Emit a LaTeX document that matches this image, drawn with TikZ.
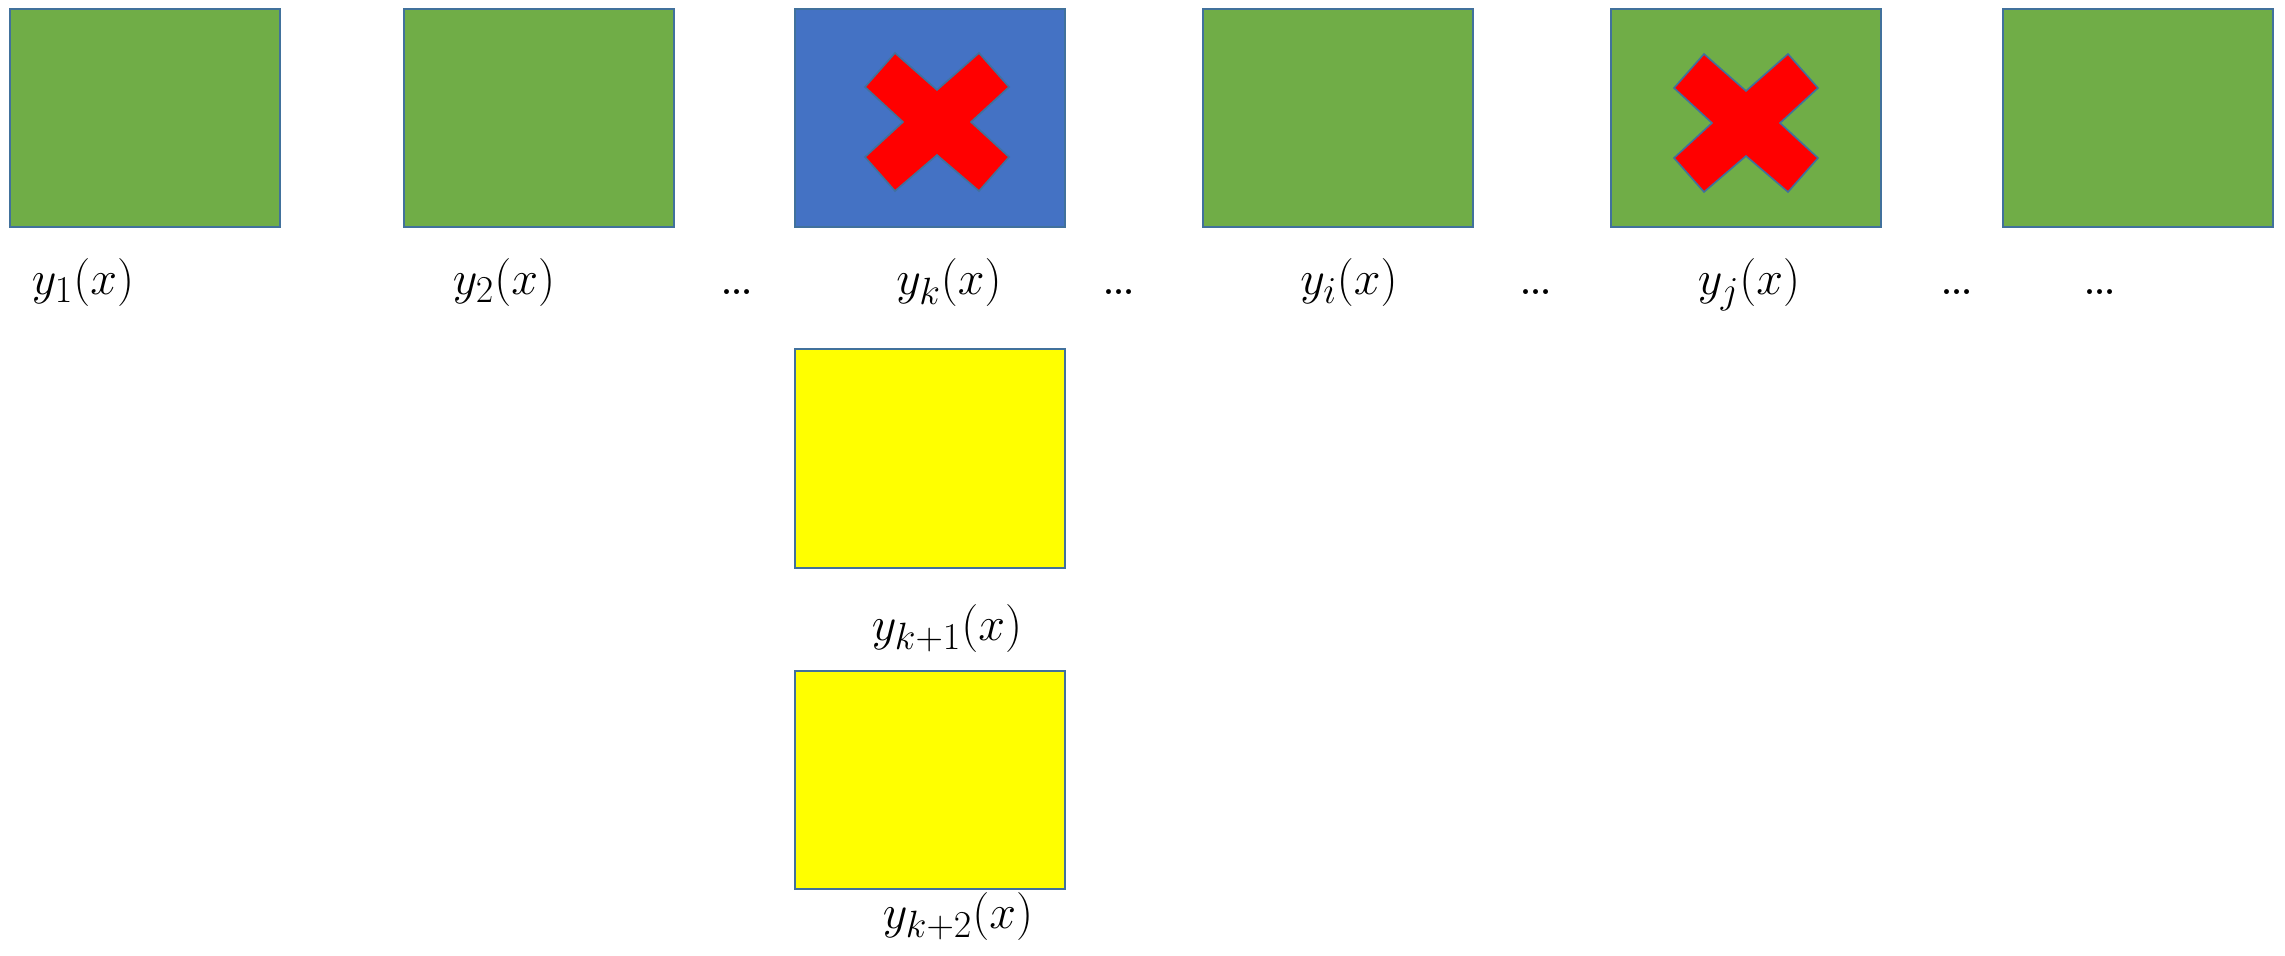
\documentclass[tikz,border=0pt]{standalone}
\usepackage{fix-cm}
\definecolor{boxgreen}{HTML}{70AD47}
\definecolor{boxblue}{HTML}{4472C4}
\definecolor{boxyellow}{HTML}{FFFF00}
\definecolor{edgeblue}{HTML}{41719C}
\DeclareMathSizes{24}{24}{19}{15}
\tikzset{
  cell/.style={draw=edgeblue, line width=1pt, minimum width=135pt, minimum height=109pt, inner sep=0pt},
  green cell/.style={cell, fill=boxgreen},
  blue cell/.style={cell, fill=boxblue},
  yellow cell/.style={cell, fill=boxyellow},
  lab/.style={anchor=base, inner sep=0pt, font=\fontsize{24}{28}\selectfont},
  dots/.style={anchor=base, inner sep=0pt, font=\fontsize{30}{34}\selectfont},
  cross/.style={fill=red, draw=edgeblue, line width=0.8pt, line join=miter}
}
\begin{document}
\begin{tikzpicture}[x=0.5pt, y=-0.5pt]
\useasboundingbox (0,0) rectangle (2285,956);
% top row
\node[green cell] (b1) at (145,118) {};
\node[green cell] (b2) at (538.5,118) {};
\node[blue cell]  (b3) at (930,118) {};
\node[green cell] (b4) at (1337.5,118) {};
\node[green cell] (b5) at (1746,118) {};
\node[green cell] (b6) at (2137.5,118) {};
% column under k
\node[yellow cell] (c1) at (930,458.5) {};
\node[yellow cell] (c2) at (930,780) {};
% crosses
\foreach \cx/\cy in {937/122, 1746/123}{
  \draw[cross] (\cx-42,\cy-69) -- (\cx,\cy-32) -- (\cx+42,\cy-69) -- (\cx+72,\cy-35)
    -- (\cx+34,\cy) -- (\cx+72,\cy+35) -- (\cx+42,\cy+69) -- (\cx,\cy+33)
    -- (\cx-42,\cy+69) -- (\cx-72,\cy+35) -- (\cx-34,\cy) -- (\cx-72,\cy-35) -- cycle;
}
% labels
\node[lab] (l1) at (83,295) {$y_1(x)$};
\node[lab] (l2) at (504,295) {$y_2(x)$};
\node[dots] (d1) at (737,295) {\dots};
\node[lab] (lk) at (949,295) {$y_k(x)$};
\node[dots] (d2) at (1119,295) {\dots};
\node[lab] (li) at (1349,295) {$y_i(x)$};
\node[dots] (d3) at (1536,295) {\dots};
\node[lab] (lj) at (1749,295) {$y_j(x)$};
\node[dots] (d4) at (1957,295) {\dots};
\node[dots] (d5) at (2100,295) {\dots};
\node[lab] (lk1) at (947,640) {$y_{k+1}(x)$};
\node[lab] (lk2) at (958,928) {$y_{k+2}(x)$};
\end{tikzpicture}
\end{document}
